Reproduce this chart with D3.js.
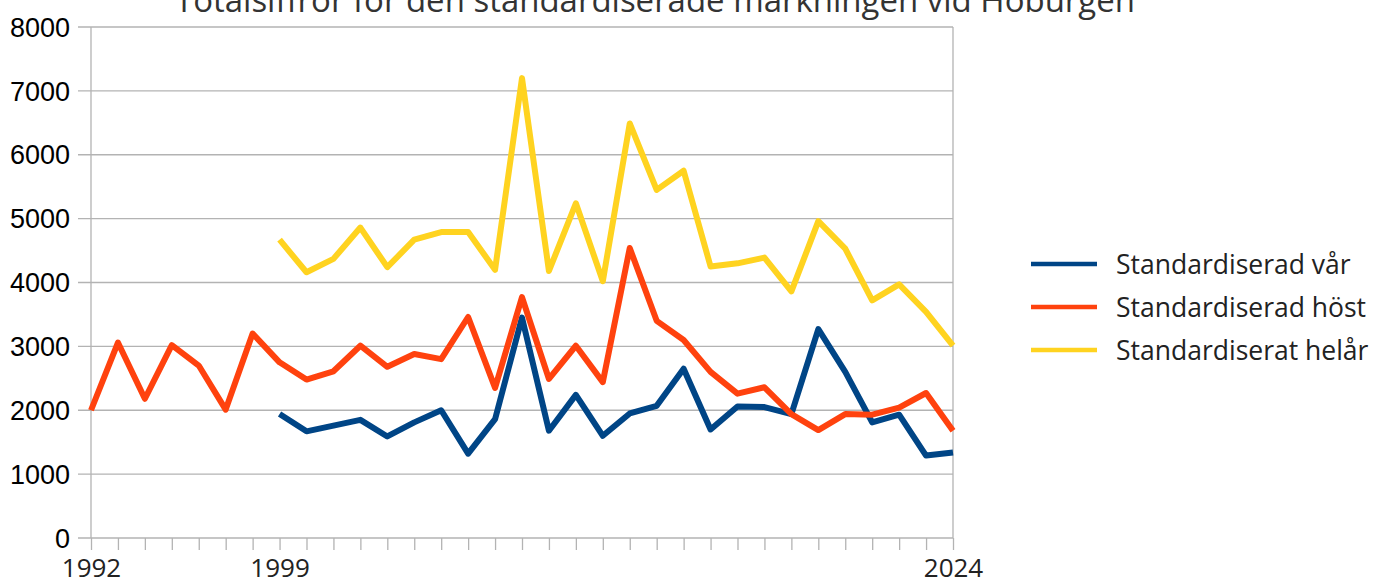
<!DOCTYPE html>
<html>
<head>
<meta charset="utf-8">
<script src="https://cdn.jsdelivr.net/npm/d3@7"></script>
<style>
  body { margin: 0; background: #fff; }
  svg { display: block; }
</style>
</head>
<body>
<svg id="chart"></svg>
<script>
const years = d3.range(1992, 2025);
const yearLabels = [1992, 1999, 2024];
const yTicks = [0, 1000, 2000, 3000, 4000, 5000, 6000, 7000, 8000];

// 1999-2024
const spring = [1940, 1670, 1760, 1850, 1590, 1810, 2000, 1320, 1860, 3450,
    1680, 2240, 1600, 1950, 2070, 2650, 1700, 2060, 2050, 1940,
    3270, 2600, 1810, 1930, 1290, 1340];
// 1992-2024
const autumn = [2000, 3060, 2180, 3020, 2700, 2010, 3200, 2750, 2480, 2610,
    3010, 2680, 2880, 2800, 3460, 2350, 3770, 2490, 3010, 2440,
    4540, 3400, 3100, 2600, 2260, 2360, 1940, 1690, 1940, 1930,
    2040, 2270, 1680];
// 1999-2024
const fullYear = [4670, 4160, 4370, 4860, 4240, 4670, 4790, 4790, 4200, 7200,
    4180, 5240, 4020, 6490, 5450, 5750, 4250, 4300, 4390, 3860,
    4960, 4530, 3720, 3970, 3540, 3010];

const seriesNames = ["Standardiserad vår", "Standardiserad höst", "Standardiserat helår"];
const seriesColors = ["#004586", "#ff420e", "#ffd320"];
const title = "Totalsiffror för den standardiserade märkningen vid Hoburgen";

const series = [
    {name: seriesNames[0], color: seriesColors[0], values: spring.map((v, i) => ({year: 1999 + i, v}))},
    {name: seriesNames[1], color: seriesColors[1], values: autumn.map((v, i) => ({year: 1992 + i, v}))},
    {name: seriesNames[2], color: seriesColors[2], values: fullYear.map((v, i) => ({year: 1999 + i, v}))}
];

const svg = d3.select('#chart')
    .attr('width', 1380)
    .attr('height', 583);

const margins = {top: 27, left: 91, right: 427, bottom: 45};
const width = 1380 - margins.left - margins.right;
const height = 583 - margins.top - margins.bottom;

const x = d3.scaleLinear().domain([1992, 2024]).range([margins.left, margins.left + width]);
const y = d3.scaleLinear().domain([0, 8000]).range([margins.top + height, margins.top]);

// title, pushed up so its top is cut off like the original
svg.append('text')
    .text(title)
    .attr('x', 655)
    .attr('y', 12)
    .attr('text-anchor', 'middle')
    .attr('font-family', '"Open Sans", sans-serif')
    .attr('font-size', 33)
    .attr('textLength', 960)
    .attr('lengthAdjust', 'spacingAndGlyphs')
    .attr('fill', '#333');

// horizontal grid
svg.append('g')
    .selectAll('line')
    .data(yTicks)
    .enter().append('line')
    .attr('x1', margins.left - 13)
    .attr('x2', margins.left + width)
    .attr('y1', d => y(d))
    .attr('y2', d => y(d))
    .attr('stroke', '#b3b3b3')
    .attr('stroke-width', 1.3);

// right border + left axis line
svg.append('line')
    .attr('x1', x(2024)).attr('x2', x(2024))
    .attr('y1', y(8000)).attr('y2', y(0))
    .attr('stroke', '#b3b3b3').attr('stroke-width', 1.3);
svg.append('line')
    .attr('x1', x(1992)).attr('x2', x(1992))
    .attr('y1', y(8000)).attr('y2', y(0))
    .attr('stroke', '#b3b3b3').attr('stroke-width', 1.3);

// y labels
svg.append('g')
    .selectAll('text')
    .data(yTicks)
    .enter().append('text')
    .text(d => d)
    .attr('x', 70)
    .attr('y', d => y(d))
    .attr('dy', '0.36em')
    .attr('text-anchor', 'end')
    .attr('font-family', '"Liberation Sans", Arial, sans-serif')
    .attr('font-size', 27)
    .attr('fill', '#000');

// x axis
const xAxis = d3.axisBottom(x)
    .tickValues(years)
    .tickSize(12)
    .tickFormat(d => yearLabels.includes(d) ? d : '');

const xAxisGroup = svg.append('g')
    .attr('transform', `translate(0, ${y(0)})`)
    .call(xAxis);

xAxisGroup.select('.domain').remove();
xAxisGroup.selectAll('.tick line')
    .attr('stroke', '#b3b3b3')
    .attr('stroke-width', 1.3);
xAxisGroup.selectAll('.tick text')
    .attr('y', 31)
    .attr('dy', '0.32em')
    .attr('font-family', '"Open Sans", sans-serif')
    .attr('font-size', 26)
    .attr('fill', '#222');

// lines
const line = d3.line()
    .x(d => x(d.year))
    .y(d => y(d.v))
    .curve(d3.curveLinear);

svg.append('g')
    .selectAll('path')
    .data(series)
    .enter().append('path')
    .attr('d', d => line(d.values))
    .attr('fill', 'none')
    .attr('stroke', d => d.color)
    .attr('stroke-width', 6)
    .attr('stroke-linejoin', 'round');

// legend
const legend = svg.append('g')
    .attr('transform', 'translate(1031, 264)');

const legendItems = legend.selectAll('g')
    .data(series)
    .enter().append('g')
    .attr('transform', (d, i) => `translate(0, ${[0, 43, 86][i]})`);

legendItems.append('line')
    .attr('x1', 0).attr('x2', 66)
    .attr('y1', 0).attr('y2', 0)
    .attr('stroke', d => d.color)
    .attr('stroke-width', 4.5);

legendItems.append('text')
    .text(d => d.name)
    .attr('x', 85)
    .attr('y', 0)
    .attr('dy', '0.36em')
    .attr('font-family', '"Open Sans", sans-serif')
    .attr('font-size', 26.5)
    .attr('fill', '#222');
</script>
</body>
</html>
